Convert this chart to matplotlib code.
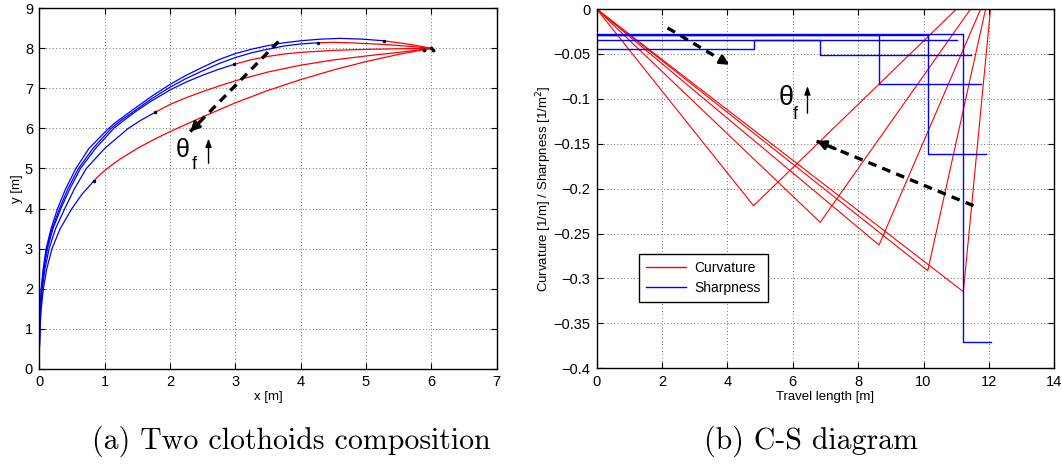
import matplotlib
matplotlib.use('Agg')
import matplotlib.pyplot as plt
from matplotlib.lines import Line2D

plt.rcParams['font.family'] = ['Liberation Sans', 'DejaVu Sans']

# ---------------- Left panel: five two-clothoid paths ----------------
# first clothoid (blue) and second clothoid (red) of each path, A = innermost ... E = outermost
blue_A_x = [0.0, 0.002, 0.01, 0.03, 0.062, 0.115, 0.195, 0.32, 0.50, 0.65, 0.83]
blue_A_y = [0.0, 0.5, 1.0, 1.5, 2.0, 2.5, 3.0, 3.5, 4.0, 4.35, 4.68]
red_A_x = [0.83, 0.92, 1.0, 1.12, 1.25, 1.5, 1.75, 2.0, 2.5, 3.0, 3.5, 4.0, 4.5, 5.0, 5.5, 6.0]
red_A_y = [4.68, 4.83, 4.95, 5.10, 5.25, 5.50, 5.72, 5.92, 6.29, 6.64, 6.95, 7.22, 7.46, 7.67, 7.85, 8.0]

blue_B_x = [0.0, 0.001, 0.008, 0.02, 0.045, 0.088, 0.15, 0.25, 0.39, 0.54, 0.72, 1.0, 1.36, 1.56, 1.77]
blue_B_y = [0.0, 0.5, 1.0, 1.5, 2.0, 2.5, 3.0, 3.5, 4.0, 4.5, 5.0, 5.5, 6.0, 6.21, 6.40]
red_B_x = [1.77, 2.0, 2.25, 2.5, 2.75, 3.0, 3.5, 4.0, 4.5, 5.0, 5.5, 6.0]
red_B_y = [6.40, 6.60, 6.77, 6.92, 7.06, 7.19, 7.41, 7.58, 7.71, 7.81, 7.90, 8.0]

blue_C_x = [0.0, 0.001, 0.007, 0.017, 0.038, 0.072, 0.125, 0.21, 0.33, 0.47, 0.63, 0.86, 1.14,
            1.3, 1.5, 1.69, 2.0, 2.25, 2.5, 2.75, 2.98]
blue_C_y = [0.0, 0.5, 1.0, 1.5, 2.0, 2.5, 3.0, 3.5, 4.0, 4.5, 5.0, 5.5, 6.0,
            6.21, 6.45, 6.66, 6.96, 7.16, 7.33, 7.48, 7.60]
red_C_x = [2.98, 3.25, 3.5, 3.75, 4.0, 4.5, 5.0, 5.5, 6.0]
red_C_y = [7.60, 7.72, 7.80, 7.86, 7.90, 7.95, 7.975, 7.99, 8.0]

blue_D_x = [0.0, 0.001, 0.006, 0.015, 0.034, 0.066, 0.115, 0.195, 0.31, 0.44, 0.60, 0.82, 1.10,
            1.25, 1.45, 1.69, 2.0, 2.25, 2.5, 2.75, 3.0, 3.25, 3.5, 3.75, 4.0, 4.27]
blue_D_y = [0.0, 0.5, 1.0, 1.5, 2.0, 2.5, 3.0, 3.5, 4.0, 4.5, 5.0, 5.5, 6.0,
            6.2, 6.43, 6.71, 7.03, 7.25, 7.44, 7.62, 7.77, 7.89, 7.98, 8.06, 8.11, 8.14]
red_D_x = [4.27, 4.5, 4.75, 5.0, 5.25, 5.5, 5.75, 6.0]
red_D_y = [8.14, 8.15, 8.14, 8.12, 8.10, 8.07, 8.04, 8.0]

blue_E_x = [0.0, 0.001, 0.005, 0.013, 0.03, 0.06, 0.105, 0.18, 0.28, 0.405, 0.56, 0.76, 1.06,
            1.2, 1.4, 1.69, 2.0, 2.25, 2.5, 2.75, 3.0, 3.25, 3.5, 3.75, 4.0, 4.3, 4.6, 4.95, 5.27]
blue_E_y = [0.0, 0.5, 1.0, 1.5, 2.0, 2.5, 3.0, 3.5, 4.0, 4.5, 5.0, 5.5, 6.0,
            6.19, 6.43, 6.77, 7.10, 7.33, 7.53, 7.72, 7.87, 7.98, 8.07, 8.14, 8.19, 8.23, 8.25, 8.23, 8.19]
red_E_x = [5.27, 5.5, 5.75, 6.0]
red_E_y = [8.19, 8.14, 8.08, 8.0]

junction_x = [0.83, 1.77, 2.98, 4.27, 5.27]
junction_y = [4.68, 6.40, 7.60, 8.14, 8.19]
end_x = [5.88, 6.0, 6.03]
end_y = [7.96, 8.01, 7.97]

left_xticks = [0, 1, 2, 3, 4, 5, 6, 7]
left_yticks = [0, 1, 2, 3, 4, 5, 6, 7, 8, 9]

# annotation arrows and labels (data coords)
left_dash_start = (3.66, 8.17)
left_dash_end = (2.31, 5.92)
left_small_start = (2.59, 5.13)
left_small_end = (2.59, 5.75)
left_theta_pos = (2.20, 5.47)
left_f_pos = (2.37, 5.10)

# ---------------- Right panel: C-S diagram ----------------
peak_s = [4.80, 6.84, 8.64, 10.13, 11.22]
peak_k = [-0.219, -0.2375, -0.2627, -0.2913, -0.3147]
end_s = [11.01, 11.44, 11.75, 11.90, 12.05]
sharp_first = [-0.0449, -0.0345, -0.0293, -0.0286, -0.0275]
sharp_second = [-0.0345, -0.0508, -0.0835, -0.161, -0.3707]

right_xticks = [0, 2, 4, 6, 8, 10, 12, 14]
right_yticks = [-0.4, -0.35, -0.3, -0.25, -0.2, -0.15, -0.1, -0.05, 0]
right_yticklabels = ['\u22120.4', '\u22120.35', '\u22120.3', '\u22120.25', '\u22120.2',
                     '\u22120.15', '\u22120.1', '\u22120.05', '0']

right_dash1_start = (2.17, -0.021)
right_dash1_end = (4.06, -0.062)
right_dash2_start = (11.53, -0.219)
right_dash2_end = (6.73, -0.147)
right_small_start = (6.45, -0.116)
right_small_end = (6.45, -0.0857)
right_theta_pos = (5.80, -0.0985)
right_f_pos = (6.07, -0.1175)

BLUE = '#0000ff'
RED = '#ff0000'
GREEK = ['Liberation Sans', 'DejaVu Sans']

fig = plt.figure(figsize=(10.62, 4.68), dpi=100)
axL = fig.add_axes([0.0370, 0.2122, 0.4307, 0.7700])
axR = fig.add_axes([0.5618, 0.2130, 0.4309, 0.7677])


def style_axes(ax):
    ax.tick_params(direction='in', length=4, width=0.8, top=True, right=True,
                   labelsize=10.5, pad=4.5, colors='k')
    for sp in ax.spines.values():
        sp.set_linewidth(1.0)
        sp.set_color('k')
    ax.grid(True, linestyle=(0, (1, 3)), color='#404040', linewidth=0.6)
    ax.set_axisbelow(True)


def dashed_arrow(ax, start, end):
    ax.plot([start[0], end[0]], [start[1], end[1]], color='k', lw=2.4,
            linestyle=(0, (2.6, 1.9)), solid_capstyle='butt', dash_capstyle='butt', zorder=5)
    frac = 0.12
    hx = end[0] - frac * (end[0] - start[0])
    hy = end[1] - frac * (end[1] - start[1])
    ax.annotate('', xy=end, xytext=(hx, hy),
                arrowprops=dict(arrowstyle='-|>,head_length=0.55,head_width=0.28',
                                color='k', lw=2.0, shrinkA=0, shrinkB=0), zorder=6)


def small_arrow(ax, start, end):
    ax.annotate('', xy=end, xytext=start,
                arrowprops=dict(arrowstyle='-|>,head_length=0.5,head_width=0.18',
                                color='k', lw=1.0, shrinkA=0, shrinkB=0), zorder=6)


def theta_label(ax, tpos, fpos, size, fsize):
    ax.text(tpos[0], tpos[1], '\u03b8', fontsize=size, ha='center', va='center',
            family=GREEK, zorder=6)
    ax.text(fpos[0], fpos[1], 'f', fontsize=fsize, ha='center', va='center',
            family=GREEK, zorder=6)


# ---- left ----
style_axes(axL)
for bx, by, rx, ry in [(blue_A_x, blue_A_y, red_A_x, red_A_y),
                       (blue_B_x, blue_B_y, red_B_x, red_B_y),
                       (blue_C_x, blue_C_y, red_C_x, red_C_y),
                       (blue_D_x, blue_D_y, red_D_x, red_D_y),
                       (blue_E_x, blue_E_y, red_E_x, red_E_y)]:
    axL.plot(bx, by, color=BLUE, lw=0.9, solid_joinstyle='round')
    axL.plot(rx, ry, color=RED, lw=0.9, solid_joinstyle='round')
axL.plot(junction_x, junction_y, 'k.', markersize=3, zorder=4)
axL.plot(end_x, end_y, 'k.', markersize=3.5, zorder=4)
dashed_arrow(axL, left_dash_start, left_dash_end)
small_arrow(axL, left_small_start, left_small_end)
theta_label(axL, left_theta_pos, left_f_pos, 18, 13)
axL.set_xlim(0, 7)
axL.set_ylim(0, 9)
axL.set_xticks(left_xticks)
axL.set_yticks(left_yticks)
axL.set_xlabel('x [m]', fontsize=9.5)
axL.set_ylabel('y [m]', fontsize=9.5)
axL.xaxis.set_label_coords(0.5, -0.062)
axL.yaxis.set_label_coords(-0.036, 0.5)

# ---- right ----
style_axes(axR)
for ps, pk, es in zip(peak_s, peak_k, end_s):
    axR.plot([0, ps, es], [0, pk, 0], color=RED, lw=0.8)
for ps, es, s1, s2 in zip(peak_s, end_s, sharp_first, sharp_second):
    axR.plot([0, ps, ps, es], [s1, s1, s2, s2], color=BLUE, lw=1.0)
dashed_arrow(axR, right_dash1_start, right_dash1_end)
dashed_arrow(axR, right_dash2_start, right_dash2_end)
small_arrow(axR, right_small_start, right_small_end)
theta_label(axR, right_theta_pos, right_f_pos, 19.5, 13)
axR.set_xlim(0, 14)
axR.set_ylim(-0.4, 0)
axR.set_xticks(right_xticks)
axR.set_yticks(right_yticks)
axR.set_yticklabels(right_yticklabels)
axR.set_xlabel('Travel length [m]', fontsize=9.5)
axR.set_ylabel('Curvature [1/m] / Sharpness [1/m$^2$]', fontsize=9.5)
axR.xaxis.set_label_coords(0.5, -0.062)
axR.yaxis.set_label_coords(-0.093, 0.5)

handles = [Line2D([0], [0], color=RED, lw=1.0), Line2D([0], [0], color=BLUE, lw=1.0)]
leg = axR.legend(handles, ['Curvature', 'Sharpness'], loc='lower left',
                 bbox_to_anchor=(0.093, 0.184), borderaxespad=0, fontsize=10,
                 fancybox=False, framealpha=1, edgecolor='k', handlelength=2.9,
                 borderpad=0.5, labelspacing=0.45, handletextpad=0.6)
leg.get_frame().set_linewidth(1.0)

# ---- captions ----
fig.text(291 / 1062, 1 - 441 / 468, '(a) Two clothoids composition', ha='center', va='center',
         fontsize=21.5, fontfamily='cmr10')
fig.text(811 / 1062, 1 - 441 / 468, '(b) C-S diagram', ha='center', va='center',
         fontsize=21.5, fontfamily='cmr10')

fig.savefig('out.png', dpi=100)
